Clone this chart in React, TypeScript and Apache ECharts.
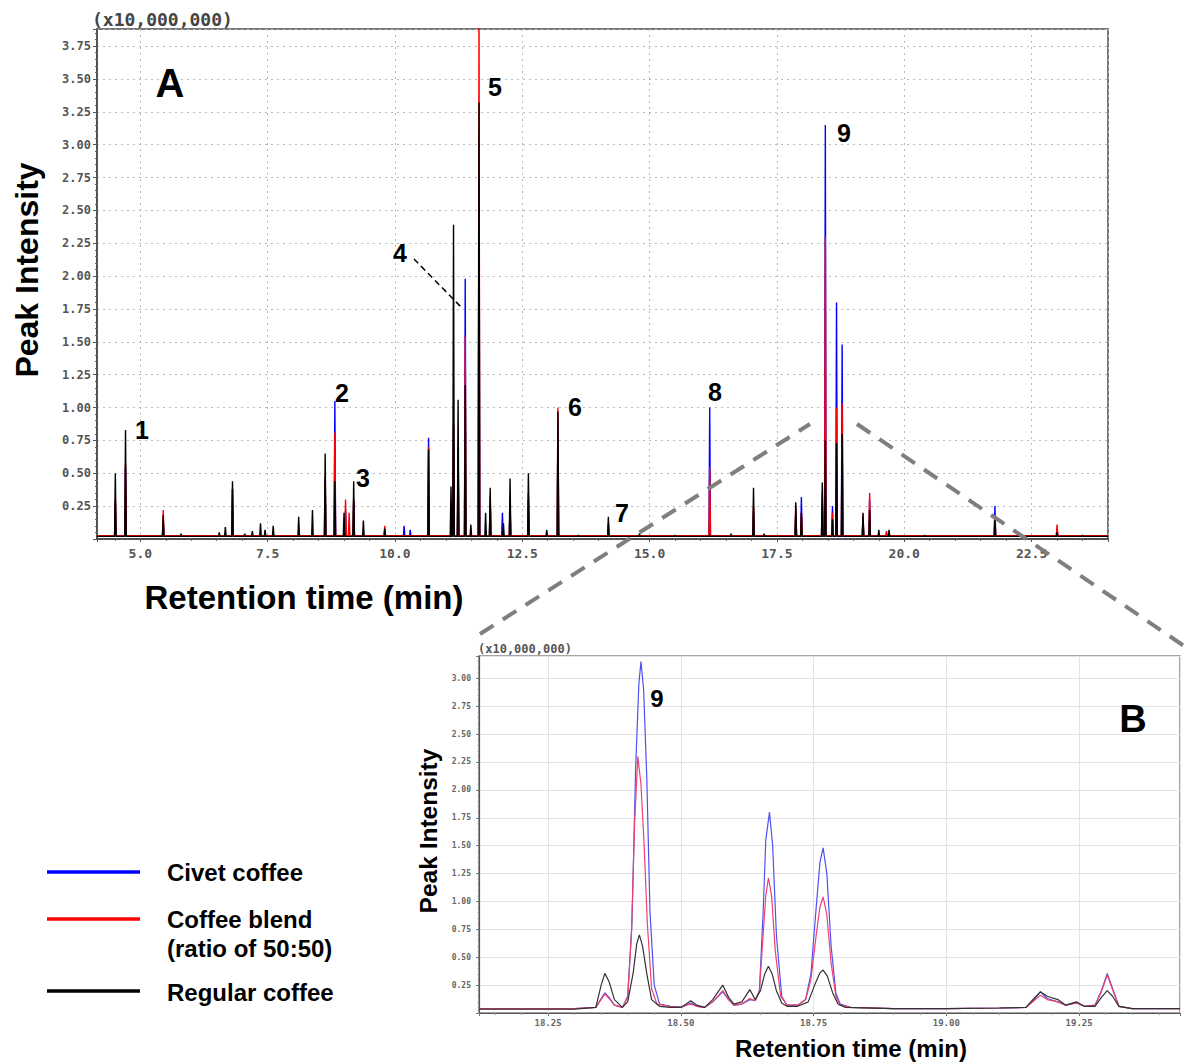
import React, { useEffect, useRef } from "react";
import * as echarts from "echarts";

// ---- Panel A: peak apexes [retention time (min), intensity (x10,000,000)] ----
const civetPeaksA: number[][] = [
  [4.51, 0.3], [4.71, 0.55], [5.45, 0.15], [6.81, 0.38], [8.63, 0.45], [8.82, 1.05], [9.03, 0.22],
  [9.19, 0.3], [10.18, 0.1], [10.3, 0.07], [10.66, 0.77], [11.15, 0.85], [11.24, 0.6], [11.38, 1.98],
  [11.65, 3.0], [11.87, 0.3], [12.11, 0.2], [12.26, 0.25], [12.62, 0.3], [13.2, 0.9], [14.19, 0.1],
  [16.18, 1.0], [17.04, 0.2], [17.87, 0.2], [17.98, 0.32], [18.39, 0.3], [18.45, 3.15], [18.59, 0.25],
  [18.67, 1.8], [18.78, 1.48], [19.19, 0.15], [19.32, 0.3], [21.78, 0.25], [23.0, 0.08],
];
const blendPeaksA: number[][] = [
  [4.51, 0.3], [4.71, 0.57], [5.45, 0.22], [6.81, 0.38], [8.63, 0.47], [8.82, 0.81], [9.03, 0.3],
  [9.1, 0.2], [9.19, 0.3], [9.8, 0.1], [10.66, 0.7], [11.15, 0.88], [11.24, 0.7], [11.38, 1.54],
  [11.65, 4.2], [11.87, 0.33], [12.26, 0.3], [12.62, 0.35], [13.2, 1.0], [14.19, 0.12], [16.18, 0.55],
  [17.04, 0.25], [17.87, 0.25], [17.98, 0.2], [18.39, 0.35], [18.45, 2.3], [18.59, 0.2], [18.67, 1.0],
  [18.78, 1.03], [19.19, 0.18], [19.32, 0.35], [19.65, 0.06], [21.78, 0.18], [23.0, 0.11],
];
const regularPeaksA: number[][] = [
  [4.51, 0.5], [4.71, 0.83], [5.45, 0.18], [5.8, 0.04], [6.55, 0.05], [6.67, 0.09], [6.81, 0.44],
  [7.05, 0.04], [7.2, 0.06], [7.36, 0.12], [7.45, 0.07], [7.61, 0.1], [8.11, 0.17], [8.38, 0.22],
  [8.63, 0.65], [8.82, 0.44], [9.0, 0.2], [9.19, 0.44], [9.38, 0.14], [9.8, 0.08], [10.66, 0.68],
  [11.1, 0.4], [11.15, 2.39], [11.24, 1.06], [11.38, 1.17], [11.49, 0.11], [11.65, 3.32], [11.78, 0.2],
  [11.87, 0.39], [12.13, 0.12], [12.26, 0.46], [12.62, 0.5], [12.98, 0.07], [13.2, 0.97], [13.6, 0.03],
  [14.19, 0.17], [14.8, 0.04], [15.5, 0.03], [16.18, 0.03], [16.6, 0.04], [17.04, 0.39], [17.25, 0.04],
  [17.87, 0.28], [17.98, 0.2], [18.39, 0.43], [18.45, 0.75], [18.59, 0.15], [18.67, 0.73], [18.78, 0.8],
  [19.19, 0.2], [19.32, 0.22], [19.5, 0.07], [19.7, 0.07], [20.4, 0.03], [21.78, 0.15], [22.3, 0.03],
  [23.0, 0.05], [23.5, 0.03],
];
const baselineA = 0.02;

// ---- Panel B: traced profile points [retention time (min), intensity] ----
const civetB: number[][] = [
  [18.12, 0.04], [18.2, 0.04], [18.3, 0.04], [18.34, 0.05], [18.35, 0.13], [18.357, 0.18], [18.365, 0.14],
  [18.375, 0.07], [18.39, 0.05], [18.4, 0.15], [18.408, 0.8], [18.415, 2.2], [18.421, 2.95], [18.425, 3.15],
  [18.43, 2.9], [18.436, 2.1], [18.442, 0.9], [18.45, 0.25], [18.46, 0.08], [18.48, 0.06], [18.5, 0.05],
  [18.51, 0.07], [18.519, 0.09], [18.53, 0.06], [18.545, 0.05], [18.56, 0.1], [18.579, 0.19], [18.59, 0.12],
  [18.6, 0.07], [18.615, 0.08], [18.63, 0.12], [18.64, 0.11], [18.648, 0.2], [18.655, 0.9], [18.66, 1.55],
  [18.667, 1.8], [18.673, 1.5], [18.68, 0.7], [18.69, 0.15], [18.7, 0.07], [18.72, 0.07], [18.735, 0.12],
  [18.745, 0.35], [18.755, 0.95], [18.762, 1.35], [18.768, 1.48], [18.775, 1.25], [18.783, 0.6],
  [18.792, 0.18], [18.8, 0.08], [18.82, 0.05], [18.9, 0.04], [19.0, 0.04], [19.1, 0.045], [19.15, 0.05],
  [19.165, 0.12], [19.177, 0.19], [19.19, 0.13], [19.21, 0.1], [19.225, 0.07], [19.245, 0.09], [19.26, 0.06],
  [19.28, 0.07], [19.292, 0.2], [19.303, 0.355], [19.313, 0.22], [19.325, 0.06], [19.35, 0.04], [19.44, 0.04],
];
const blendB: number[][] = [
  [18.12, 0.04], [18.2, 0.04], [18.3, 0.04], [18.34, 0.05], [18.35, 0.12], [18.357, 0.17], [18.365, 0.13],
  [18.375, 0.07], [18.39, 0.05], [18.4, 0.14], [18.407, 0.7], [18.413, 1.7], [18.419, 2.3], [18.425, 2.05],
  [18.431, 1.5], [18.437, 0.8], [18.445, 0.22], [18.455, 0.08], [18.48, 0.06], [18.5, 0.05], [18.51, 0.07],
  [18.519, 0.08], [18.53, 0.06], [18.545, 0.05], [18.56, 0.1], [18.579, 0.2], [18.59, 0.12], [18.6, 0.07],
  [18.615, 0.08], [18.63, 0.13], [18.64, 0.11], [18.648, 0.2], [18.655, 0.7], [18.66, 1.05], [18.665, 1.21],
  [18.671, 1.05], [18.678, 0.55], [18.688, 0.15], [18.7, 0.07], [18.72, 0.07], [18.735, 0.12], [18.745, 0.3],
  [18.755, 0.7], [18.762, 0.95], [18.768, 1.04], [18.775, 0.88], [18.783, 0.45], [18.792, 0.15], [18.8, 0.07],
  [18.82, 0.05], [18.9, 0.04], [19.0, 0.04], [19.1, 0.045], [19.15, 0.05], [19.165, 0.11], [19.177, 0.16],
  [19.19, 0.12], [19.21, 0.1], [19.225, 0.07], [19.245, 0.09], [19.26, 0.06], [19.28, 0.07], [19.292, 0.19],
  [19.303, 0.34], [19.313, 0.21], [19.325, 0.06], [19.35, 0.04], [19.44, 0.04],
];
const regularB: number[][] = [
  [18.12, 0.035], [18.2, 0.035], [18.3, 0.035], [18.34, 0.05], [18.35, 0.25], [18.357, 0.355],
  [18.365, 0.28], [18.375, 0.12], [18.39, 0.05], [18.4, 0.1], [18.41, 0.35], [18.417, 0.62], [18.422, 0.7],
  [18.428, 0.6], [18.436, 0.35], [18.445, 0.12], [18.46, 0.06], [18.48, 0.05], [18.5, 0.05], [18.51, 0.08],
  [18.519, 0.11], [18.53, 0.07], [18.545, 0.05], [18.56, 0.12], [18.579, 0.25], [18.59, 0.14], [18.6, 0.08],
  [18.615, 0.1], [18.63, 0.21], [18.64, 0.12], [18.65, 0.2], [18.658, 0.35], [18.665, 0.42], [18.672, 0.35],
  [18.68, 0.2], [18.69, 0.09], [18.7, 0.06], [18.72, 0.06], [18.74, 0.1], [18.752, 0.25], [18.762, 0.36],
  [18.768, 0.385], [18.776, 0.33], [18.786, 0.18], [18.796, 0.08], [18.81, 0.05], [18.9, 0.04], [19.0, 0.04],
  [19.1, 0.045], [19.15, 0.05], [19.165, 0.13], [19.177, 0.19], [19.19, 0.15], [19.21, 0.12], [19.225, 0.07],
  [19.245, 0.1], [19.26, 0.06], [19.28, 0.06], [19.292, 0.14], [19.303, 0.2], [19.313, 0.15], [19.325, 0.06],
  [19.35, 0.04], [19.44, 0.04],
];

const colors = { civet: "#0000ff", blend: "#ff0000", regular: "#000000" };
const colorsB = { civet: "#5050f0", blend: "#ee4070", regular: "#333333" };

function spikes(peaks: number[][], base: number): number[][] {
  const sorted = [...peaks].sort((a, b) => a[0] - b[0]);
  const out: number[][] = [[4.15, base]];
  const hw = 0.015;
  sorted.forEach(([t, h]) => {
    out.push([t - hw, base], [t, h], [t + hw, base]);
  });
  out.push([24, base]);
  return out;
}

const isMult = (v: number, step: number) => Math.abs(v / step - Math.round(v / step)) < 1e-6;

export default function App() {
  const ref = useRef<HTMLDivElement>(null);
  useEffect(() => {
    if (!ref.current) return;
    const chart = echarts.init(ref.current, null, { renderer: "svg", width: 1184, height: 1063 });
    const bold = "bold";
    const sans = "'Liberation Sans', Arial, sans-serif";
    const mono = "'DejaVu Sans Mono', monospace";
    const text = (t: string, x: number, y: number, size: number, extra: any = {}) => ({
      type: "text",
      x,
      y,
      silent: true,
      z: 100,
      ...extra,
      style: {
        text: t,
        fontSize: size,
        fontWeight: bold,
        fontFamily: sans,
        fill: "#000",
        textAlign: "center",
        textVerticalAlign: "middle",
        ...(extra.style || {}),
      },
    });
    const line = (x1: number, y1: number, x2: number, y2: number, stroke: string, w: number, dash?: number[]) => ({
      type: "line",
      silent: true,
      z: 100,
      shape: { x1, y1, x2, y2 },
      style: { stroke, lineWidth: w, lineDash: dash },
    });

    const option: any = {
      animation: false,
      backgroundColor: "#fff",
      grid: [
        { left: 97, top: 29, width: 1011, height: 510, show: true, borderColor: "#777", borderWidth: 2, backgroundColor: "transparent" },
        { left: 479, top: 656, width: 701, height: 357, show: true, borderColor: "#888", borderWidth: 1.5, backgroundColor: "transparent" },
      ],
      xAxis: [
        {
          gridIndex: 0,
          type: "value",
          min: 4.15,
          max: 24,
          minInterval: 2.5,
          maxInterval: 2.5,
          axisLine: { lineStyle: { color: "#444", width: 1.5 } },
          axisTick: { show: true, length: 3, lineStyle: { color: "#555" } },
          minorTick: { show: true, splitNumber: 5, length: 2, lineStyle: { color: "#666" } },
          splitLine: { show: true, lineStyle: { color: "#b8b8b8", type: [2, 4], width: 1 } },
          axisLabel: {
            margin: 8,
            fontFamily: mono,
            fontWeight: "bold",
            fontSize: 13,
            color: "#555",
            formatter: (v: number) => (isMult(v, 2.5) ? v.toFixed(1) : ""),
          },
        },
        {
          gridIndex: 1,
          type: "value",
          min: 18.12,
          max: 19.44,
          minInterval: 0.25,
          maxInterval: 0.25,
          axisLine: { lineStyle: { color: "#555", width: 1.2 } },
          axisTick: { show: true, length: 3, lineStyle: { color: "#777" } },
          minorTick: { show: true, splitNumber: 5, length: 2, lineStyle: { color: "#999" } },
          splitLine: { show: true, lineStyle: { color: "#e2e2e2", width: 1 } },
          axisLabel: {
            margin: 5,
            fontFamily: mono,
            fontWeight: "bold",
            fontSize: 9,
            color: "#666",
            formatter: (v: number) => (isMult(v, 0.25) ? v.toFixed(2) : ""),
          },
        },
      ],
      yAxis: [
        {
          gridIndex: 0,
          type: "value",
          min: 0,
          max: 3.88,
          interval: 0.25,
          axisLine: { show: true, lineStyle: { color: "#444", width: 1.5 } },
          axisTick: { show: true, length: 4, lineStyle: { color: "#555" } },
          minorTick: { show: true, splitNumber: 5, length: 2, lineStyle: { color: "#666" } },
          splitLine: { show: true, lineStyle: { color: "#b8b8b8", type: [2, 4], width: 1 } },
          axisLabel: {
            margin: 6,
            fontFamily: mono,
            fontWeight: "bold",
            fontSize: 12,
            color: "#555",
            formatter: (v: number) => (v > 0.01 && isMult(v, 0.25) ? v.toFixed(2) : ""),
          },
        },
        {
          gridIndex: 1,
          type: "value",
          min: 0,
          max: 3.2,
          interval: 0.25,
          axisLine: { show: true, lineStyle: { color: "#555", width: 1.2 } },
          axisTick: { show: true, length: 3, lineStyle: { color: "#777" } },
          minorTick: { show: true, splitNumber: 5, length: 1.5, lineStyle: { color: "#999" } },
          splitLine: { show: true, lineStyle: { color: "#e2e2e2", width: 1 } },
          axisLabel: {
            margin: 8,
            fontFamily: mono,
            fontWeight: "bold",
            fontSize: 8,
            color: "#666",
            formatter: (v: number) => (v > 0.01 && isMult(v, 0.25) ? v.toFixed(2) : ""),
          },
        },
      ],
      series: [
        { name: "Civet coffee", type: "line", xAxisIndex: 0, yAxisIndex: 0, data: spikes(civetPeaksA, baselineA), showSymbol: false, symbol: "none", lineStyle: { color: colors.civet, width: 1.4 }, z: 2 },
        { name: "Coffee blend", type: "line", xAxisIndex: 0, yAxisIndex: 0, data: spikes(blendPeaksA, baselineA + 0.005), showSymbol: false, symbol: "none", lineStyle: { color: colors.blend, width: 1.4 }, z: 3 },
        { name: "Regular coffee", type: "line", xAxisIndex: 0, yAxisIndex: 0, data: spikes(regularPeaksA, baselineA), showSymbol: false, symbol: "none", lineStyle: { color: colors.regular, width: 1.4 }, z: 4 },
        { name: "Civet coffee B", type: "line", xAxisIndex: 1, yAxisIndex: 1, data: civetB, showSymbol: false, symbol: "none", lineStyle: { color: colorsB.civet, width: 1.2 }, z: 2 },
        { name: "Coffee blend B", type: "line", xAxisIndex: 1, yAxisIndex: 1, data: blendB, showSymbol: false, symbol: "none", lineStyle: { color: colorsB.blend, width: 1.2 }, z: 3 },
        { name: "Regular coffee B", type: "line", xAxisIndex: 1, yAxisIndex: 1, data: regularB, showSymbol: false, symbol: "none", lineStyle: { color: colorsB.regular, width: 1.2 }, z: 4 },
      ],
      graphic: [
        text("(x10,000,000)", 92, 19, 18, { style: { fontFamily: mono, textAlign: "left", fill: "#444" } }),
        text("(x10,000,000)", 478, 649, 12, { style: { fontFamily: mono, textAlign: "left", fill: "#555" } }),
        text("A", 170, 83, 40),
        text("B", 1133, 719, 38),
        text("1", 142, 430, 25),
        text("2", 342, 393, 25),
        text("3", 363, 478, 25),
        text("4", 400, 253, 25),
        text("5", 495, 87, 25),
        text("6", 575, 407, 25),
        text("7", 622, 513, 25),
        text("8", 715, 392, 25),
        text("9", 844, 133, 25),
        text("9", 657, 698, 24),
        line(414, 259, 462, 308, "#000", 1.5, [6, 4]),
        line(480, 634, 810, 424, "#7f7f7f", 4, [16, 11]),
        line(857, 424, 1190, 650, "#7f7f7f", 4, [16, 11]),
        text("Peak Intensity", 27, 270, 32, { rotation: Math.PI / 2 }),
        text("Retention time (min)", 304, 597, 33),
        text("Peak Intensity", 428, 831, 24.5, { rotation: Math.PI / 2 }),
        text("Retention time (min)", 851, 1048, 24),
        line(47, 872, 140, 872, colors.civet, 3.5),
        line(47, 919, 140, 919, colors.blend, 3.5),
        line(47, 991, 140, 991, colors.regular, 3.5),
        text("Civet coffee", 167, 872, 24, { style: { textAlign: "left" } }),
        text("Coffee blend", 167, 919, 24, { style: { textAlign: "left" } }),
        text("(ratio of 50:50)", 167, 948, 24, { style: { textAlign: "left" } }),
        text("Regular coffee", 167, 992, 24, { style: { textAlign: "left" } }),
      ],
    };
    chart.setOption(option);
    return () => chart.dispose();
  }, []);
  return <div ref={ref} style={{ position: "absolute", left: 0, top: 0, width: 1184, height: 1063 }} />;
}
